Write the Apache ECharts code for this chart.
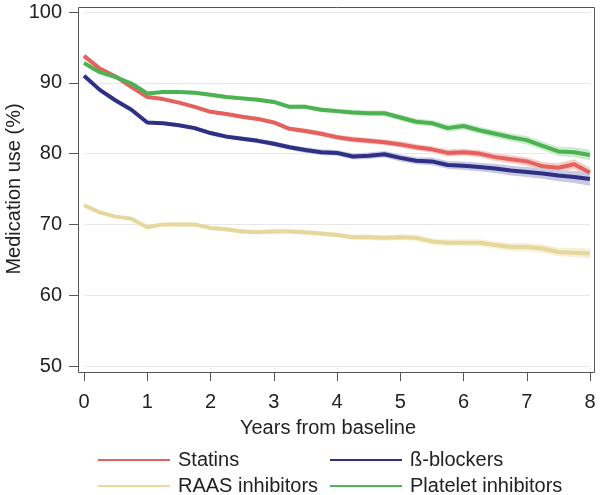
<!DOCTYPE html>
<html>
<head>
<meta charset="utf-8">
<script src="https://cdn.jsdelivr.net/npm/echarts@6/dist/echarts.min.js"></script>
<style>html,body{margin:0;padding:0;background:#fff;}#c{width:600px;height:495px;}</style>
</head>
<body>
<div id="c"></div>
<script>
// Time points (years from baseline)
var years = [0,0.25,0.5,0.75,1,1.25,1.5,1.75,2,2.25,2.5,2.75,3,3.25,3.5,3.75,4,4.25,4.5,4.75,5,5.25,5.5,5.75,6,6.25,6.5,6.75,7,7.25,7.5,7.75,8];
var xTicks = [0,1,2,3,4,5,6,7,8];
var yTicks = [50,60,70,80,90,100];

// Medication use (%)
var statins   = [93.8,92.0,90.9,89.4,88.0,87.7,87.2,86.6,85.9,85.6,85.2,84.9,84.4,83.5,83.2,82.8,82.3,82.0,81.8,81.6,81.3,80.9,80.6,80.1,80.2,80.0,79.5,79.2,78.9,78.2,78.0,78.5,77.3];
var blockers  = [91.0,89.0,87.5,86.2,84.4,84.3,84.0,83.6,82.9,82.4,82.1,81.8,81.4,80.9,80.5,80.2,80.1,79.6,79.7,79.9,79.4,79.0,78.9,78.4,78.3,78.1,77.9,77.6,77.4,77.2,76.9,76.7,76.4];
var raas      = [72.7,71.7,71.1,70.8,69.6,70.0,70.0,70.0,69.5,69.3,69.0,68.9,69.0,69.0,68.9,68.7,68.5,68.2,68.2,68.1,68.2,68.1,67.6,67.4,67.4,67.4,67.1,66.8,66.8,66.6,66.1,66.0,65.9];
var platelet  = [92.8,91.5,90.8,89.9,88.5,88.7,88.7,88.6,88.3,88.0,87.8,87.6,87.3,86.6,86.6,86.2,86.0,85.8,85.7,85.7,85.1,84.5,84.3,83.6,83.9,83.3,82.8,82.3,81.9,81.1,80.3,80.2,79.8];

// Confidence band half-widths (percentage points)
var statinsCI  = [0.2,0.2,0.2,0.2,0.2,0.2,0.25,0.25,0.25,0.25,0.3,0.3,0.3,0.3,0.35,0.35,0.35,0.4,0.4,0.4,0.45,0.45,0.45,0.5,0.5,0.5,0.55,0.55,0.6,0.6,0.65,0.7,0.75];
var blockersCI = [0.2,0.2,0.2,0.2,0.25,0.25,0.25,0.3,0.3,0.3,0.3,0.35,0.35,0.35,0.4,0.4,0.4,0.45,0.45,0.45,0.5,0.5,0.55,0.55,0.6,0.6,0.65,0.7,0.7,0.75,0.8,0.85,0.95];
var raasCI     = [0.2,0.2,0.2,0.2,0.2,0.2,0.25,0.25,0.25,0.25,0.3,0.3,0.3,0.3,0.35,0.35,0.35,0.35,0.4,0.4,0.4,0.45,0.45,0.45,0.5,0.5,0.5,0.55,0.55,0.6,0.6,0.65,0.7];
var plateletCI = [0.2,0.2,0.2,0.2,0.2,0.2,0.25,0.25,0.25,0.25,0.3,0.3,0.3,0.3,0.35,0.35,0.35,0.4,0.4,0.4,0.45,0.45,0.45,0.5,0.5,0.5,0.55,0.55,0.6,0.6,0.65,0.7,0.75];

var names = ['Statins','ß-blockers','RAAS inhibitors','Platelet inhibitors'];
var colors = ['#e5615e','#2e3086','#e6d79a','#4db252'];
var bandColors = ['#f7cdca','#c9cae2','#f6f0d8','#cdeccd'];
var values = [statins, blockers, raas, platelet];
var cis = [statinsCI, blockersCI, raasCI, plateletCI];

var FONT = '"Liberation Sans", Arial, Helvetica, sans-serif';
var AXC = '#555555';
var TXT = '#222222';

var series = [];
// confidence bands (polygon through the axis scales)
values.forEach(function(v, i){
  var ci = cis[i];
  var bandData = years.map(function(t, k){ return [t, +(v[k] - ci[k]).toFixed(3), +(v[k] + ci[k]).toFixed(3)]; });
  series.push({
    type:'custom', silent:true, xAxisIndex:0, yAxisIndex:0, z:1,
    data: bandData,
    encode:{x:0, y:[1,2]},
    clip:true,
    renderItem: function(params, api){
      if (params.dataIndex !== 0) return null;
      var up = [], lo = [];
      for (var k = 0; k < bandData.length; k++) {
        up.push(api.coord([bandData[k][0], bandData[k][2]]));
        lo.push(api.coord([bandData[k][0], bandData[k][1]]));
      }
      var pts = up.concat(lo.reverse());
      return {type:'polygon', shape:{points:pts}, style:{fill:bandColors[i], stroke:null}};
    }
  });
});
// main lines
values.forEach(function(v, i){
  series.push({type:'line', name:names[i], data:years.map(function(t,k){return [t, v[k]];}),
    symbol:'none', color:colors[i], lineStyle:{width:4, color:colors[i]}, xAxisIndex:0, yAxisIndex:0, z:3});
});

function legendAt(name, left, top){
  return {data:[name], left:left, top:top, padding:0, icon:'rect', itemWidth:72, itemHeight:2,
    textStyle:{fontFamily:FONT, fontSize:20, color:TXT, padding:[0,0,0,3]}, selectedMode:false};
}

var chart = echarts.init(document.getElementById('c'), null, {renderer:'canvas'});
chart.setOption({
  backgroundColor:'#fff',
  animation:false,
  grid:[{left:84, right:10, top:12, bottom:129, containLabel:false, outerBoundsMode:'none'}],
  graphic:[{type:'rect', silent:true, z:10,
    shape:{x:78.5, y:7.5, width:516, height:365},
    style:{fill:'none', stroke:AXC, lineWidth:1}}],
  legend:[
    legendAt('Statins', 98, 450),
    legendAt('ß-blockers', 330, 450),
    legendAt('RAAS inhibitors', 98, 476),
    legendAt('Platelet inhibitors', 330, 476)
  ],
  xAxis:[
    {type:'value', min:xTicks[0], max:xTicks[xTicks.length-1], interval:1, offset:6,
     name:'Years from baseline', nameLocation:'middle', nameGap:46, nameMoveOverlap:false,
     nameTextStyle:{fontFamily:FONT, fontSize:20, color:TXT, padding:[0,18,0,0]},
     axisLine:{show:true, onZero:false, lineStyle:{color:AXC, width:1}},
     axisTick:{show:true, length:9, lineStyle:{color:AXC}},
     axisLabel:{fontFamily:FONT, fontSize:20, color:TXT, margin:20},
     splitLine:{show:false}}
  ],
  yAxis:[
    {type:'value', min:yTicks[0], max:yTicks[yTicks.length-1], interval:10, offset:6,
     name:'Medication use (%)', nameLocation:'middle', nameGap:54, nameMoveOverlap:false,
     nameTextStyle:{fontFamily:FONT, fontSize:20, color:TXT},
     axisLine:{show:true, onZero:false, lineStyle:{color:AXC, width:1}},
     axisTick:{show:true, length:9, lineStyle:{color:AXC}},
     axisLabel:{fontFamily:FONT, fontSize:20, color:TXT, margin:16},
     splitLine:{show:true, lineStyle:{color:'#e8e8e8', width:1}}}
  ],
  series:series
});
</script>
</body>
</html>
